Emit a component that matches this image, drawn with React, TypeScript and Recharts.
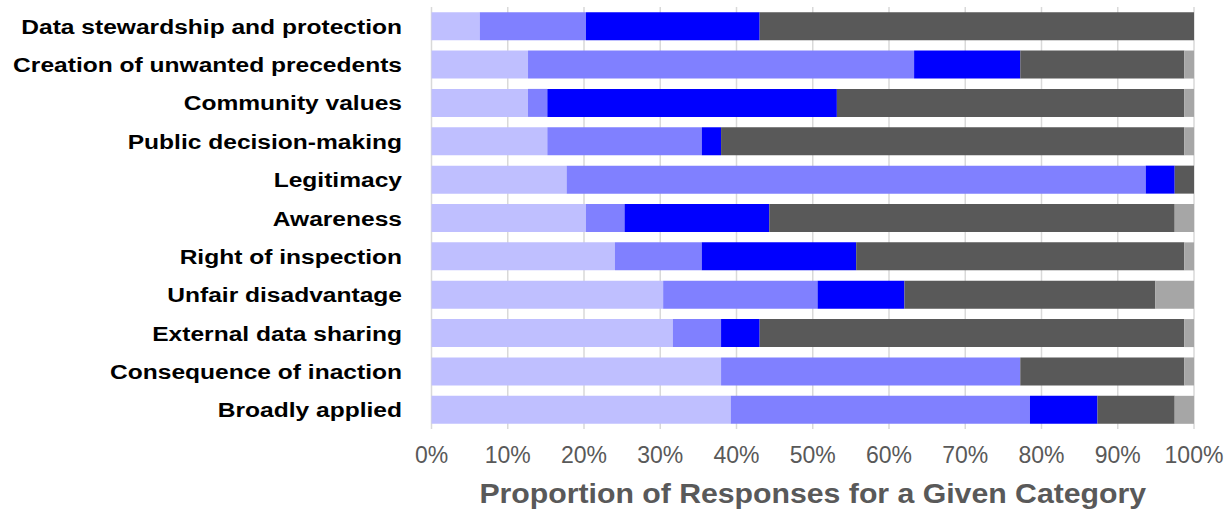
import React from "react"
import { Bar, BarChart, CartesianGrid, Label, XAxis, YAxis } from "recharts"

// responses per category (79 respondents each)
const categories = [
  "Data stewardship and protection",
  "Creation of unwanted precedents",
  "Community values",
  "Public decision-making",
  "Legitimacy",
  "Awareness",
  "Right of inspection",
  "Unfair disadvantage",
  "External data sharing",
  "Consequence of inaction",
  "Broadly applied",
]
const lightCounts = [5, 10, 10, 12, 14, 16, 19, 24, 25, 30, 31]
const mediumCounts = [11, 40, 2, 16, 60, 4, 9, 16, 5, 31, 31]
const blueCounts = [18, 11, 30, 2, 3, 15, 16, 9, 4, 0, 7]
const darkCounts = [45, 17, 36, 48, 2, 42, 34, 26, 44, 17, 8]
const grayCounts = [0, 1, 1, 1, 0, 2, 1, 4, 1, 1, 2]
const xTicks = [0, 0.1, 0.2, 0.3, 0.4, 0.5, 0.6, 0.7, 0.8, 0.9, 1]

const series = [
  { key: "light", color: "#BFBFFF" },
  { key: "medium", color: "#8080FF" },
  { key: "blue", color: "#0000FF" },
  { key: "dark", color: "#595959" },
  { key: "gray", color: "#A6A6A6" },
]

const data = categories.map((name, i) => ({
  name,
  light: lightCounts[i],
  medium: mediumCounts[i],
  blue: blueCounts[i],
  dark: darkCounts[i],
  gray: grayCounts[i],
}))

const FONT = "'Liberation Sans', Arial, sans-serif"

function CategoryTick({ x, y, payload }: any) {
  return (
    <g transform={`translate(${x},${y}) scale(1.17,1)`}>
      <text x={0} y={0} dy="0.36em" textAnchor="end" fontFamily={FONT} fontWeight="bold" fontSize={21} fill="#000">
        {payload.value}
      </text>
    </g>
  )
}

export default function App() {
  return (
    <div style={{ position: "fixed", left: 0, top: 0, background: "#fff" }}>
      <BarChart
        width={1227}
        height={509}
        data={data}
        layout="vertical"
        stackOffset="expand"
        barCategoryGap="13.5%"
        margin={{ top: 7, right: 33, bottom: 0, left: 0 }}
      >
        <CartesianGrid horizontal={false} stroke="#D9D9D9" strokeWidth={1.5} />
        <XAxis
          type="number"
          domain={[0, 1]}
          ticks={xTicks}
          tickFormatter={(v: number) => `${Math.round(v * 100)}%`}
          axisLine={false}
          tickLine={false}
          tickMargin={12}
          height={80}
          tick={{ fill: "#595959", fontSize: 23, fontFamily: FONT }}
        >
          <Label
            content={(props: any) => {
              const vb = props.viewBox
              const cx = vb.x + vb.width / 2
              return (
                <text
                  x={cx}
                  y={503}
                  textAnchor="middle"
                  fontFamily={FONT}
                  fontWeight="bold"
                  fontSize={28}
                  fill="#595959"
                  transform={`translate(${cx * -0.08},0) scale(1.08,1)`}
                >
                  Proportion of Responses for a Given Category
                </text>
              )
            }}
          />
        </XAxis>
        <YAxis
          type="category"
          dataKey="name"
          width={431.5}
          axisLine={false}
          tickLine={false}
          tickMargin={23.5}
          interval={0}
          tick={<CategoryTick />}
        />
        {series.map((s) => (
          <Bar key={s.key} dataKey={s.key} stackId="a" fill={s.color} isAnimationActive={false} />
        ))}
      </BarChart>
    </div>
  )
}
